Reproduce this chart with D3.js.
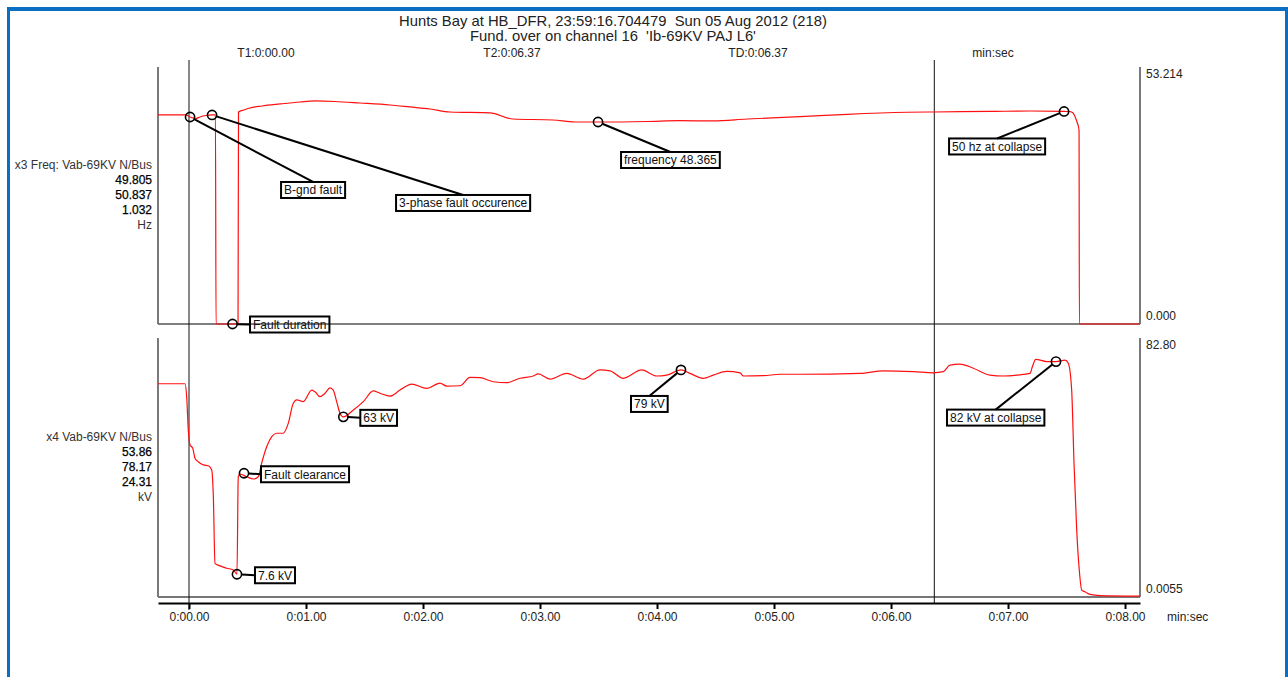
<!DOCTYPE html>
<html>
<head>
<meta charset="utf-8">
<script src="https://cdn.jsdelivr.net/npm/d3@7"></script>
<style>
  html, body { margin: 0; padding: 0; background: #fff; }
  svg { display: block; }
  text { font-family: "Liberation Sans", Arial, Helvetica, sans-serif; white-space: pre; }
</style>
</head>
<body>
<svg id="chart" width="1288" height="677"></svg>
<script>
// ---------------- DATA ----------------
const titleLines = ["Hunts Bay at HB_DFR, 23:59:16.704479  Sun 05 Aug 2012 (218)",
                    "Fund. over on channel 16  'Ib-69KV PAJ L6'"];
const cursorLabels = ["T1:0:00.00", "T2:0:06.37", "TD:0:06.37", "min:sec"];
const cursorTimes = [0, 6.37];

const xTickValues = [0, 1, 2, 3, 4, 5, 6, 7, 8];
const xTickLabels = ["0:00.00", "0:01.00", "0:02.00", "0:03.00", "0:04.00", "0:05.00", "0:06.00", "0:07.00", "0:08.00"];
const xUnitLabel = "min:sec";

const freqInfo = ["x3 Freq: Vab-69KV N/Bus", "49.805", "50.837", "1.032", "Hz"];
const voltInfo = ["x4 Vab-69KV N/Bus", "53.86", "78.17", "24.31", "kV"];
const freqScaleLabels = ["53.214", "0.000"];
const voltScaleLabels = ["82.80", "0.0055"];

// frequency trace (time in min:sec units, value)
const freqT = [-0.265, -0.026, 0.009, 0.06, 0.094, 0.145, 0.197, 0.226, 0.231, 0.419, 0.423, 0.47, 0.52, 0.624, 0.778,
  0.949, 1.077, 1.248, 1.462, 1.718, 1.889, 2.06, 2.231, 2.573, 2.769, 3.111, 3.299, 3.496, 3.915, 4.197, 4.479,
  4.769, 5.222, 5.624, 6.137, 6.359, 6.846, 7.188, 7.479, 7.53, 7.556, 7.573, 7.59, 7.607, 7.61, 8.128];
const freqV = [48.8, 48.8, 48.33, 47.98, 48.33, 48.68, 48.8, 48.8, 0, 0, 49.5, 49.97, 50.43, 50.9, 51.37,
  51.83, 52.07, 51.95, 51.6, 51.13, 50.67, 50.2, 49.5, 49.27, 47.86, 47.63, 47.16, 47.16, 47.28, 47.47, 47.4,
  47.86, 48.4, 48.96, 49.43, 49.5, 49.62, 49.73, 49.62, 49.57, 49.27, 48.4, 47.16, 45.3, 0, 0];

// voltage trace
const voltT = [-0.265, -0.034, -0.02, -0.006, 0.009, 0.032, 0.051, 0.079, 0.122, 0.165, 0.194, 0.208, 0.222, 0.265,
  0.322, 0.379, 0.41, 0.421, 0.436, 0.493, 0.55, 0.592, 0.621, 0.664, 0.707, 0.75, 0.806, 0.849, 0.891, 0.921,
  0.977, 1.049, 1.077, 1.12, 1.162, 1.205, 1.233, 1.262, 1.291, 1.319, 1.405, 1.49, 1.575, 1.632, 1.718, 1.803,
  1.903, 2.032, 2.145, 2.203, 2.316, 2.402, 2.487, 2.601, 2.715, 2.829, 2.943, 2.985, 3.085, 3.228, 3.37, 3.513,
  3.598, 3.712, 3.869, 3.997, 4.083, 4.205, 4.282, 4.396, 4.481, 4.596, 4.709, 4.738, 4.909, 5.051, 5.222, 5.735,
  5.934, 6.191, 6.362, 6.447, 6.504, 6.59, 6.703, 6.846, 6.96, 7.074, 7.188, 7.208, 7.237, 7.331, 7.41, 7.487,
  7.515, 7.544, 7.564, 7.587, 7.609, 7.63, 7.658, 7.701, 7.786, 8.128];
const voltV = [74.1, 74.1, 69.6, 58.0, 52.8, 51.7, 48.2, 47.0, 45.9, 45.6, 44.1, 34.9, 11.7, 10.8,
  10.0, 9.4, 7.9, 41.8, 42.7, 41.8, 41.0, 41.8, 46.5, 52.2, 55.7, 56.9, 56.9, 60.4, 67.3, 68.5,
  67.9, 71.9, 71.3, 69.6, 70.8, 72.7, 71.9, 67.9, 63.8, 62.6, 65.0, 67.9, 71.6, 70.8, 69.8, 71.9,
  74.0, 72.5, 74.3, 73.3, 73.4, 76.3, 76.2, 74.8, 74.5, 76.0, 76.8, 77.5, 75.7, 77.7, 75.7, 78.9,
  78.6, 76.0, 78.9, 76.8, 77.1, 78.9, 77.7, 76.0, 77.1, 78.4, 77.9, 76.8, 76.9, 77.4, 77.4, 77.7,
  78.6, 78.3, 77.9, 78.3, 80.6, 80.9, 79.5, 77.1, 76.8, 77.1, 77.7, 80.0, 82.6, 81.8, 81.8, 82.3,
  81.2, 71.9, 46.5, 23.3, 9.4, 2.4, 1.8, 0.9, 0.5, 0.3];

// annotations (label, time, value)
const freqNoteLabels = ["B-gnd fault", "3-phase fault occurence", "frequency 48.365", "50 hz at collapse", "Fault duration"];
const freqNoteT = [0.009, 0.197, 3.496, 7.479, 0.372];
const freqNoteV = [48.33, 48.8, 47.16, 49.62, 0];
const voltNoteLabels = ["Fault clearance", "7.6 kV", "63 kV", "79 kV", "82 kV at collapse"];
const voltNoteT = [0.47, 0.41, 1.319, 4.205, 7.41];
const voltNoteV = [43.0, 7.9, 62.6, 78.9, 81.8];

// ---------------- LAYOUT / STYLE ----------------
const freqNoteLayout = [
  {dx: 91, dy: 65, lead: "top"}, {dx: 184, dy: 80, lead: "top"}, {dx: 23, dy: 30, lead: "top"},
  {dx: -115, dy: 27, lead: "top"}, {dx: 17.5, dy: -7.5, lead: "side"}];
const voltNoteLayout = [
  {dx: 17, dy: -7, lead: "side"}, {dx: 18, dy: -7, lead: "side"}, {dx: 17, dy: -7, lead: "side"},
  {dx: -50, dy: 26, lead: "top"}, {dx: -109, dy: 48, lead: "top"}];

const L = 158, R = 1140;
const svg = d3.select("#chart");
const FONT = 12;

const x = d3.scaleLinear().domain([-0.265, 8.128]).range([L, R]);
const yF = d3.scaleLinear().domain([0, 60]).range([324, 67]);
const yV = d3.scaleLinear().domain([0, 90]).range([597, 338]);

// blue window frame
const blue = "#0a6fc2";
svg.append("rect").attr("x", 7).attr("y", 7).attr("width", 1281).attr("height", 4).attr("fill", blue);
svg.append("rect").attr("x", 7).attr("y", 7).attr("width", 3).attr("height", 670).attr("fill", blue);
svg.append("rect").attr("x", 1285).attr("y", 7).attr("width", 3).attr("height", 670).attr("fill", blue);

// titles
svg.selectAll("text.title").data(titleLines).join("text")
  .attr("class", "title").attr("x", 613).attr("y", (d, i) => 25.5 + i * 15.5)
  .attr("text-anchor", "middle").attr("font-size", 14.8).attr("fill", "#222").text(d => d);
const cursorLabelX = [266, 512, 758, 993];
svg.selectAll("text.cur").data(cursorLabels).join("text")
  .attr("class", "cur").attr("x", (d, i) => cursorLabelX[i]).attr("y", 56.5)
  .attr("text-anchor", "middle").attr("font-size", FONT).attr("fill", "#222").text(d => d);

// panel frames
function panel(top, bottom, baseColor, baseW) {
  svg.append("line").attr("x1", L).attr("x2", L).attr("y1", top).attr("y2", bottom).attr("stroke", "#222").attr("stroke-width", 1.2);
  svg.append("line").attr("x1", R).attr("x2", R).attr("y1", top).attr("y2", bottom).attr("stroke", "#222").attr("stroke-width", 1.2);
  svg.append("line").attr("x1", L).attr("x2", R).attr("y1", bottom).attr("y2", bottom).attr("stroke", baseColor).attr("stroke-width", baseW);
}
panel(yF.range()[1], yF.range()[0], "#555", 1.5);
panel(yV.range()[1], yV.range()[0], "#777", 2);

// cursor lines
svg.selectAll("line.cursor").data(cursorTimes).join("line")
  .attr("class", "cursor").attr("x1", d => x(d)).attr("x2", d => x(d))
  .attr("y1", 60).attr("y2", (d, i) => i === 0 ? 610 : 603)
  .attr("stroke", "#111").attr("stroke-width", 1);

// x axis
const xAxis = d3.axisBottom(x).tickValues(xTickValues)
  .tickFormat((d, i) => xTickLabels[i]).tickSize(6).tickSizeOuter(0).tickPadding(3);
const gx = svg.append("g").attr("transform", "translate(0,603)").call(xAxis);
gx.select(".domain").attr("stroke", "#000").attr("stroke-width", 2);
gx.selectAll(".tick line").attr("stroke", "#000").attr("stroke-width", 2);
gx.selectAll(".tick text").attr("font-size", FONT).attr("fill", "#222")
  .attr("font-family", "'Liberation Sans', Arial, sans-serif");
svg.append("text").attr("x", 1167).attr("y", 621).attr("font-size", FONT).attr("fill", "#222").text(xUnitLabel);

// channel info labels
function info(lines, yCenter) {
  svg.selectAll(null).data(lines).join("text")
    .attr("x", 152).attr("y", (d, i) => yCenter + i * 15 + 4)
    .attr("text-anchor", "end").attr("font-size", FONT)
    .attr("fill", (d, i) => (i === 0 || i === 4) ? "#333" : "#000")
    .attr("stroke", (d, i) => (i === 0 || i === 4) ? "none" : "#000")
    .attr("stroke-width", 0.25)
    .text(d => d);
}
info(freqInfo, 165);
info(voltInfo, 437);

// right scale labels
function scaleLabels(labels, y) {
  const r = y.range();
  svg.selectAll(null).data(labels).join("text")
    .attr("x", R + 6).attr("y", (d, i) => i === 0 ? r[1] + 11 : r[0] - 4)
    .attr("font-size", FONT).attr("fill", "#222").text(d => d);
}
scaleLabels(freqScaleLabels, yF);
scaleLabels(voltScaleLabels, yV);

// traces
function trace(T, V, y) {
  const pts = T.map((t, i) => [t, V[i]]);
  svg.append("path").datum(pts)
    .attr("d", d3.line().curve(d3.curveMonotoneX).x(d => x(d[0])).y(d => y(d[1])))
    .attr("fill", "none").attr("stroke", "#ff1010").attr("stroke-width", 1.2);
}
trace(freqT, freqV, yF);
trace(voltT, voltV, yV);

// annotations
function notes(labels, T, V, y, layout) {
  labels.forEach((lab, i) => {
    const cx = x(T[i]), cy = y(V[i]);
    const lay = layout[i];
    const g = svg.append("g");
    const bx = cx + lay.dx, by = cy + lay.dy, bh = 16;
    const txt = g.append("text").attr("x", bx + 3).attr("y", by + 12.5)
      .attr("font-size", FONT).attr("fill", "#111").text(lab);
    const bw = txt.node().getComputedTextLength() + 6;
    let ex, ey;
    if (lay.lead === "top") { ex = bx + bw / 2; ey = by; }
    else { ex = bx; ey = by + bh / 2; }
    const r = 4.6;
    const ang = Math.atan2(ey - cy, ex - cx);
    g.insert("line", "text").attr("x1", cx + r * Math.cos(ang)).attr("y1", cy + r * Math.sin(ang))
      .attr("x2", ex).attr("y2", ey).attr("stroke", "#000").attr("stroke-width", 2);
    g.insert("rect", "text").attr("x", bx).attr("y", by).attr("width", bw).attr("height", bh)
      .attr("fill", "none").attr("stroke", "#000").attr("stroke-width", 2);
    g.append("circle").attr("cx", cx).attr("cy", cy).attr("r", r)
      .attr("fill", "none").attr("stroke", "#000").attr("stroke-width", 1.6);
  });
}
notes(freqNoteLabels, freqNoteT, freqNoteV, yF, freqNoteLayout);
notes(voltNoteLabels, voltNoteT, voltNoteV, yV, voltNoteLayout);
</script>
</body>
</html>
